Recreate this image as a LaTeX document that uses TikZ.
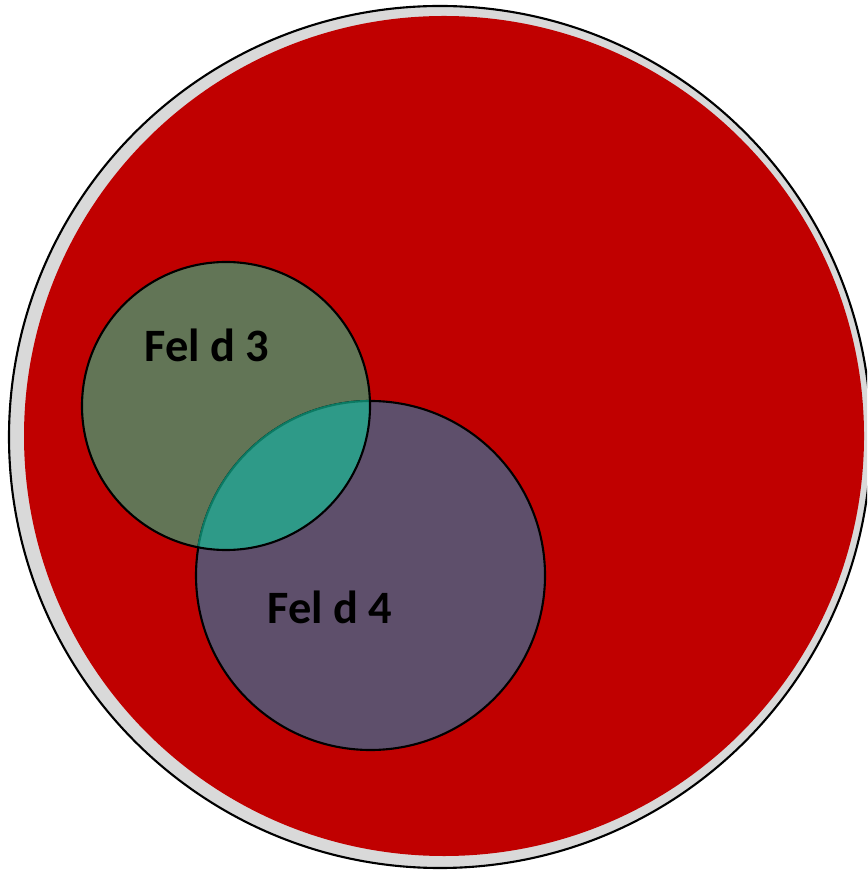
\documentclass[tikz,border=0pt]{standalone}
\usepackage{fontspec}
\setmainfont{Carlito}
\usepackage{tikz}
\definecolor{ringgray}{HTML}{D9D9D9}
\definecolor{setred}{HTML}{C00000}
\definecolor{felgreen}{HTML}{627556}
\definecolor{felpurple}{HTML}{5E4F6B}
\definecolor{overlap}{HTML}{2E9A88}
\definecolor{overlapedge}{HTML}{0B7A63}
\tikzset{label/.style = {font=\fontsize{13.2}{16}\selectfont\bfseries, inner sep=0pt}}

\begin{document}
\begin{tikzpicture}[x=0.01cm, y=-0.01cm, line width=0.6pt]
    \useasboundingbox (0,0) rectangle (867,871);
    \clip (0,0) rectangle (867,871);
    % outer ring and red disc
    \filldraw[fill=ringgray, draw=black] (440,437) circle (431);
    \fill[setred] (444,436) circle (420);
    % the two allergen circles
    \fill[felgreen] (226,406) circle (144);
    \filldraw[fill=felpurple, draw=black] (370.5,575.5) circle (174.5);
    \begin{scope}
        \clip (226,406) circle (144);
        \fill[overlap] (370.5,575.5) circle (174.5);
        \draw[overlapedge] (370.5,575.5) circle (174.5);
    \end{scope}
    \draw (226,406) circle (144);
    % labels
    \node[label] (fel3) at (207,345) {Fel d 3};
    \node[label] (fel4) at (330,607) {Fel d 4};
\end{tikzpicture}
\end{document}
